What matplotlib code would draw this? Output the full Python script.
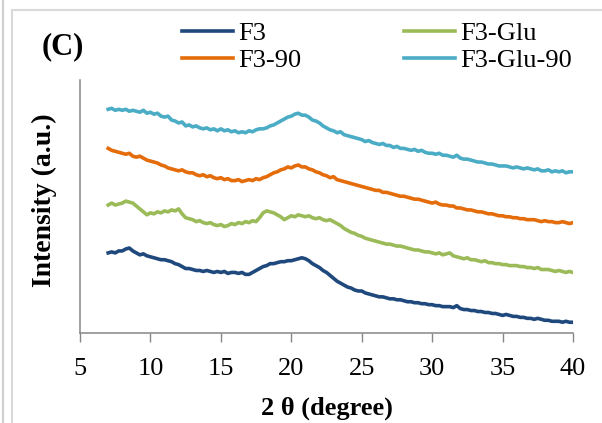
import numpy as np
import matplotlib.pyplot as plt
from matplotlib.lines import Line2D

# 2 theta scan grid, 7 to 40 degree in 0.25 steps
two_theta = np.arange(7.0, 40.01, 0.25)

# intensities (a.u., stacked as in the original)
f3 = [
    79, 80, 79, 81,  81, 83, 84, 81,  79, 77, 78, 76,  75, 74, 73, 72,
    72, 71, 70, 68,  67, 65, 63, 63,  62, 61, 61, 60,  61, 60, 59, 60,
    59, 60, 58, 59,  59, 58, 59, 57,  57, 59, 61, 63,  65, 66, 68, 68,
    69, 70, 70, 71,  71, 72, 73, 74,  73, 71, 68, 66,  64, 61, 59, 56,
    53, 50, 48, 46,  44, 43, 41, 40,  40, 38, 37, 36,  35, 34, 34, 33,
    32, 32, 31, 31,  30, 29, 29, 28,  28, 27, 27, 26,  26, 25, 25, 24,
    24, 24, 23, 25,  22, 21, 21, 20,  20, 19, 19, 18,  18, 17, 17, 16,
    15, 16, 15, 14,  14, 13, 13, 12,  12, 11, 12, 11,  10, 10, 9, 9,
    9, 8, 9, 8,  8]
f3_glu = [
    128, 130, 128, 129,  130, 132, 131, 130,  127, 124, 121, 118,  120, 119, 121, 120,
    122, 121, 123, 122,  124, 119, 115, 114,  113, 111, 112, 110,  109, 110, 108, 107,
    108, 106, 107, 109,  108, 110, 109, 111,  110, 112, 111, 115,  120, 122, 121, 120,
    118, 116, 113, 115,  117, 116, 118, 117,  116, 117, 115, 114,  115, 113, 112, 113,
    111, 109, 107, 104,  102, 100, 99, 97,  96, 94, 93, 92,  91, 90, 89, 88,
    88, 87, 86, 86,  85, 84, 83, 82,  82, 81, 80, 80,  79, 78, 79, 77,
    78, 79, 76, 75,  74, 73, 74, 72,  72, 71, 70, 71,  69, 69, 68, 68,
    67, 67, 66, 66,  66, 65, 65, 64,  64, 63, 64, 62,  62, 62, 61, 60,
    61, 60, 59, 60,  59]
f3_90 = [
    186, 184, 183, 182,  181, 180, 181, 178,  177, 178, 176, 174,  173, 172, 171, 169,
    168, 166, 165, 164,  163, 164, 162, 161,  161, 159, 158, 159,  157, 158, 156, 155,
    156, 154, 155, 153,  153, 154, 152, 153,  154, 153, 155, 154,  156, 157, 159, 161,
    162, 164, 165, 167,  166, 168, 169, 167,  167, 165, 164, 162,  161, 159, 158, 156,
    157, 154, 153, 152,  151, 150, 149, 148,  147, 146, 145, 144,  143, 143, 141, 141,
    140, 139, 138, 137,  137, 136, 135, 134,  134, 133, 132, 131,  130, 131, 129, 128,
    128, 127, 127, 125,  125, 124, 123, 123,  122, 121, 121, 120,  119, 119, 118, 117,
    117, 116, 116, 115,  115, 114, 114, 113,  113, 113, 112, 111,  112, 111, 111, 110,
    110, 111, 110, 109,  110]
f3_glu_90 = [
    226, 227, 225, 226,  225, 226, 224, 225,  224, 223, 225, 222,  223, 221, 222, 219,
    218, 219, 215, 214,  212, 213, 209, 210,  208, 209, 207, 206,  207, 205, 206, 204,
    206, 204, 205, 203,  204, 202, 203, 202,  204, 203, 205, 206,  206, 207, 209, 210,
    212, 214, 216, 218,  219, 221, 222, 220,  220, 218, 215, 214,  212, 209, 207, 205,
    204, 202, 203, 200,  199, 198, 197, 196,  195, 193, 194, 192,  191, 190, 191, 189,
    189, 187, 188, 186,  186, 185, 184, 185,  183, 184, 182, 181,  181, 180, 181, 179,
    179, 178, 177, 179,  176, 175, 175, 174,  173, 172, 172, 171,  170, 170, 169, 168,
    168, 168, 167, 166,  167, 166, 165, 166,  165, 164, 165, 163,  163, 164, 162, 163,
    162, 163, 161, 162,  162]

series = [
    ["F3", f3, "#1F497D"],
    ["F3-90", f3_90, "#E46C0A"],
    ["F3-Glu", f3_glu, "#9BBB59"],
    ["F3-Glu-90", f3_glu_90, "#4BACC6"],
]
x_ticks = [5, 10, 15, 20, 25, 30, 35, 40]

plt.rcParams['font.family'] = ['Liberation Serif', 'DejaVu Serif']

W, H = 602, 423
fig = plt.figure(figsize=(W / 100, H / 100), dpi=100)
ax = fig.add_axes([80 / W, (H - 333) / H, 493 / W, 253 / H])

for name, vals, col in series:
    ax.plot(two_theta, vals, color=col, linewidth=2.6, label=name)

ax.set_xlim(5, 40)
ax.set_ylim(-3, 256)
ax.set_xticks(x_ticks)
ax.set_yticks([])
ax.tick_params(axis="x", direction="out", length=6.5, width=1.0, color="#868686",
               labelsize=19, pad=11.5)
for s in ["top", "right"]:
    ax.spines[s].set_visible(False)
for s in ["left", "bottom"]:
    ax.spines[s].set_color("#868686")
    ax.spines[s].set_linewidth(1.1)

ax.set_xlabel("2 θ (degree)", fontsize=19, fontweight="bold", labelpad=12)
# y label placed by hand
fig.text(44 / W, 1 - 200 / H, "Intensity (a.u.)", fontsize=20, fontweight="bold",
         rotation=90, ha="center", va="center")

fig.text(42 / W, 1 - 47 / H, "(C)", fontsize=22, fontweight="bold", va="center", ha="left")

##### legend, two columns like the original #####
handles, labels = ax.get_legend_handles_labels()
fig.legend(handles, labels, ncol=2, loc="upper left", bbox_to_anchor=(182 / W, 1 - 22 / H),
           frameon=False, fontsize=19, borderpad=0, handlelength=1.93, handletextpad=0.2,
           columnspacing=3.9, labelspacing=0.12, borderaxespad=0)

##### outer frame lines of the source panel #####
frame_col = "#d9d9d9"
fig.add_artist(Line2D([3 / W, 3 / W], [0, 1], color="#cfcfcf", linewidth=1.5))
fig.add_artist(Line2D([12 / W, 12 / W], [0, 1 - 10 / H], color=frame_col, linewidth=1.5))
fig.add_artist(Line2D([12 / W, 1], [1 - 10 / H, 1 - 10 / H], color=frame_col, linewidth=1.5))

fig.savefig("out.png", dpi=100)
